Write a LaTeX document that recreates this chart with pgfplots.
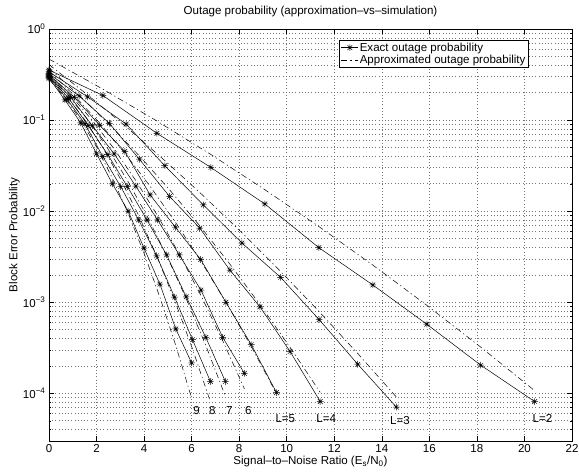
\documentclass[border=0pt]{standalone}
\usepackage{fontspec}
\setmainfont{Liberation Sans}
\usepackage{pgfplots}
\pgfplotsset{compat=1.18}

% MATLAB-like '*' marker (plus and cross)
\pgfdeclareplotmark{mstar}{%
  \pgfpathmoveto{\pgfqpoint{0pt}{\pgfplotmarksize}}%
  \pgfpathlineto{\pgfqpoint{0pt}{-\pgfplotmarksize}}%
  \pgfpathmoveto{\pgfqpoint{\pgfplotmarksize}{0pt}}%
  \pgfpathlineto{\pgfqpoint{-\pgfplotmarksize}{0pt}}%
  \pgfpathmoveto{\pgfqpoint{0.707\pgfplotmarksize}{0.707\pgfplotmarksize}}%
  \pgfpathlineto{\pgfqpoint{-0.707\pgfplotmarksize}{-0.707\pgfplotmarksize}}%
  \pgfpathmoveto{\pgfqpoint{0.707\pgfplotmarksize}{-0.707\pgfplotmarksize}}%
  \pgfpathlineto{\pgfqpoint{-0.707\pgfplotmarksize}{0.707\pgfplotmarksize}}%
  \pgfusepathqstroke}

\newcommand{\mfont}{\fontsize{11.6}{13}\selectfont}

\pgfplotsset{
  exact/.style={black, line width=0.5pt, mark=mstar, mark size=3.3bp,
    mark options={solid, line width=0.5pt}},
  approx/.style={black, line width=0.5pt, no marks,
    dash pattern=on 6bp off 3bp on 1.2bp off 3bp},
}

\begin{document}
\begin{tikzpicture}
\useasboundingbox (-49bp,-31bp) rectangle (530bp,441bp);
\begin{axis}[
  at={(0,0)}, anchor=south west,
  width=523bp, height=412bp, scale only axis,
  ymode=log,
  xmin=0, xmax=22, ymin=3e-5, ymax=1,
  xtick={0,2,...,22},
  ytick={1e-4,1e-3,1e-2,1e-1,1},
  yticklabels={10\textsuperscript{−4},10\textsuperscript{−3},10\textsuperscript{−2},10\textsuperscript{−1},10\textsuperscript{0}},
  minor ytick={4e-5,5e-5,6e-5,7e-5,8e-5,9e-5,
    2e-4,3e-4,4e-4,5e-4,6e-4,7e-4,8e-4,9e-4,
    2e-3,3e-3,4e-3,5e-3,6e-3,7e-3,8e-3,9e-3,
    2e-2,3e-2,4e-2,5e-2,6e-2,7e-2,8e-2,9e-2,
    2e-1,3e-1,4e-1,5e-1,6e-1,7e-1,8e-1,9e-1},
  /pgf/number format/assume math mode=true,
  tick label style={font=\mfont},
  xtick pos=both, ytick pos=both,
  tick align=inside,
  major tick length=5bp, minor tick length=2.5bp,
  every tick/.style={black, line width=0.5pt},
  axis line style={line width=0.8pt},
  xmajorgrids=true, ymajorgrids=true, yminorgrids=true,
  major grid style={black!55, line width=0.6bp, dash pattern=on 0.6bp off 2.6bp},
  minor grid style={black!55, line width=0.6bp, dash pattern=on 0.6bp off 2.6bp},
  title={Outage probability (approximation--vs--simulation)},
  title style={font=\mfont, at={(axis description cs:0.5,1)}, anchor=base, yshift=9bp, inner sep=0pt},
  xlabel={Signal--to--Noise Ratio (E\textsubscript{s}/N\textsubscript{0})},
  xlabel style={font=\mfont, at={(axis description cs:0.5,-0.037)}, anchor=north, inner sep=0pt},
  ylabel={Block Error Probability},
  ylabel style={font=\mfont, at={(axis description cs:-0.0555,0.5)}, anchor=south, inner sep=0pt},
  legend cell align=left,
  legend style={font=\mfont, at={(0.918,0.973)}, anchor=north east,
    draw=black, line width=0.8pt, inner xsep=2bp, inner ysep=1bp,
    nodes={inner sep=1.2bp}},
]
\addlegendimage{exact}
\addlegendentry{Exact outage probability}
\addlegendimage{approx}
\addlegendentry{Approximated outage probability}

% ---- exact (simulated) curves, L = 2..9
\addplot[exact, forget plot] coordinates {
 (0,0.355) (2.27,0.186) (4.54,0.0716) (6.81,0.0302) (9.08,0.0120)
 (11.35,0.00398) (13.62,0.00155) (15.89,0.000575) (18.16,0.000204) (20.43,8.13e-5)};
\addplot[exact, forget plot] coordinates {
 (0,0.339) (1.623,0.180) (3.247,0.0904) (4.870,0.0316) (6.493,0.0117)
 (8.117,0.00447) (9.740,0.00188) (11.363,0.000646) (12.987,0.000209) (14.61,7.08e-5)};
\addplot[exact, forget plot] coordinates {
 (0,0.324) (1.268,0.184) (2.536,0.0923) (3.803,0.0372) (5.071,0.0145)
 (6.339,0.00653) (7.607,0.00226) (8.874,0.000891) (10.142,0.000288) (11.41,8.13e-5)};
\addplot[exact, forget plot] coordinates {
 (0,0.316) (1.063,0.178) (2.127,0.0881) (3.190,0.0452) (4.253,0.0151)
 (5.317,0.00667) (6.380,0.00295) (7.443,0.00100) (8.507,0.000343) (9.57,0.000102)};
\addplot[exact, forget plot] coordinates {
 (0,0.309) (0.913,0.178) (1.827,0.0865) (2.740,0.0427) (3.653,0.0188)
 (4.567,0.00802) (5.480,0.00331) (6.393,0.00136) (7.307,0.000412) (8.22,0.000166)};
\addplot[exact, forget plot] coordinates {
 (0,0.302) (0.824,0.174) (1.649,0.0871) (2.473,0.0417) (3.298,0.0186)
 (4.122,0.00802) (4.947,0.00331) (5.771,0.00115) (6.596,0.000412) (7.42,0.000135)};
\addplot[exact, forget plot] coordinates {
 (0,0.295) (0.754,0.170) (1.509,0.0912) (2.263,0.0398) (3.018,0.0186)
 (3.772,0.00802) (4.527,0.00324) (5.281,0.00114) (6.036,0.000389) (6.79,0.000135)};
\addplot[exact, forget plot] coordinates {
 (0,0.288) (0.667,0.167) (1.333,0.0933) (2.0,0.0427) (2.667,0.0200)
 (3.333,0.0100) (4.0,0.00392) (4.667,0.00158) (5.333,0.000509) (6.0,0.000216)};

% ---- approximations, L = 2..9
\addplot[approx, forget plot] coordinates {
 (0,0.4677) (2.27,0.2183) (4.54,0.0977) (6.81,0.0419) (9.08,0.01722)
 (11.35,0.006786) (13.62,0.002563) (15.89,0.000928) (18.16,0.000322) (20.43,0.000107)};
\addplot[approx, forget plot] coordinates {
 (0,0.4074) (1.623,0.1892) (3.247,0.0842) (4.870,0.0360) (6.493,0.01475)
 (8.117,0.005794) (9.740,0.002185) (11.363,0.000790) (12.987,0.000274) (14.61,9.13e-5)};
\addplot[approx, forget plot] coordinates {
 (0,0.3715) (1.268,0.1877) (2.536,0.0896) (3.803,0.0404) (5.071,0.01720)
 (6.339,0.006922) (7.607,0.002629) (8.874,0.000944) (10.142,0.000320) (11.41,0.0001024)};
\addplot[approx, forget plot] coordinates {
 (0,0.3467) (1.063,0.1860) (2.127,0.0929) (3.190,0.04325) (4.253,0.01876)
 (5.317,0.007576) (6.380,0.002853) (7.443,0.001001) (8.507,0.000327) (9.57,9.95e-5)};
\addplot[approx, forget plot] coordinates {
 (0,0.3236) (0.913,0.1866) (1.827,0.0989) (2.740,0.04825) (3.653,0.02164)
 (4.567,0.008922) (5.480,0.003386) (6.393,0.001183) (7.307,0.000379) (8.22,0.000112)};
\addplot[approx, forget plot] coordinates {
 (0,0.3090) (0.824,0.1837) (1.649,0.0993) (2.473,0.04879) (3.298,0.02178)
 (4.122,0.008853) (4.947,0.003267) (5.771,0.001098) (6.596,0.000335) (7.42,9.30e-5)};
\addplot[approx, forget plot] coordinates {
 (0,0.2951) (0.754,0.1816) (1.509,0.1004) (2.263,0.04996) (3.018,0.02232)
 (3.772,0.008977) (4.527,0.003241) (5.281,0.001054) (6.036,0.000308) (6.79,8.08e-5)};
\addplot[approx, forget plot] coordinates {
 (0,0.2818) (0.667,0.1772) (1.333,0.1001) (2.0,0.05068) (2.667,0.02303)
 (3.333,0.009408) (4.0,0.003445) (4.667,0.001132) (5.333,0.000335) (6.0,8.86e-5)};

% ---- curve labels
\node[font=\mfont] at (axis cs:6.21,6.56e-5) {9};
\node[font=\mfont] at (axis cs:6.87,6.56e-5) {8};
\node[font=\mfont] at (axis cs:7.59,6.56e-5) {7};
\node[font=\mfont] at (axis cs:8.38,6.56e-5) {6};
\node[font=\mfont] at (axis cs:9.94,5.35e-5) {L=5};
\node[font=\mfont] at (axis cs:11.66,5.35e-5) {L=4};
\node[font=\mfont] at (axis cs:14.76,5.09e-5) {L=3};
\node[font=\mfont] at (axis cs:20.76,5.35e-5) {L=2};
\end{axis}
\end{tikzpicture}
\end{document}
